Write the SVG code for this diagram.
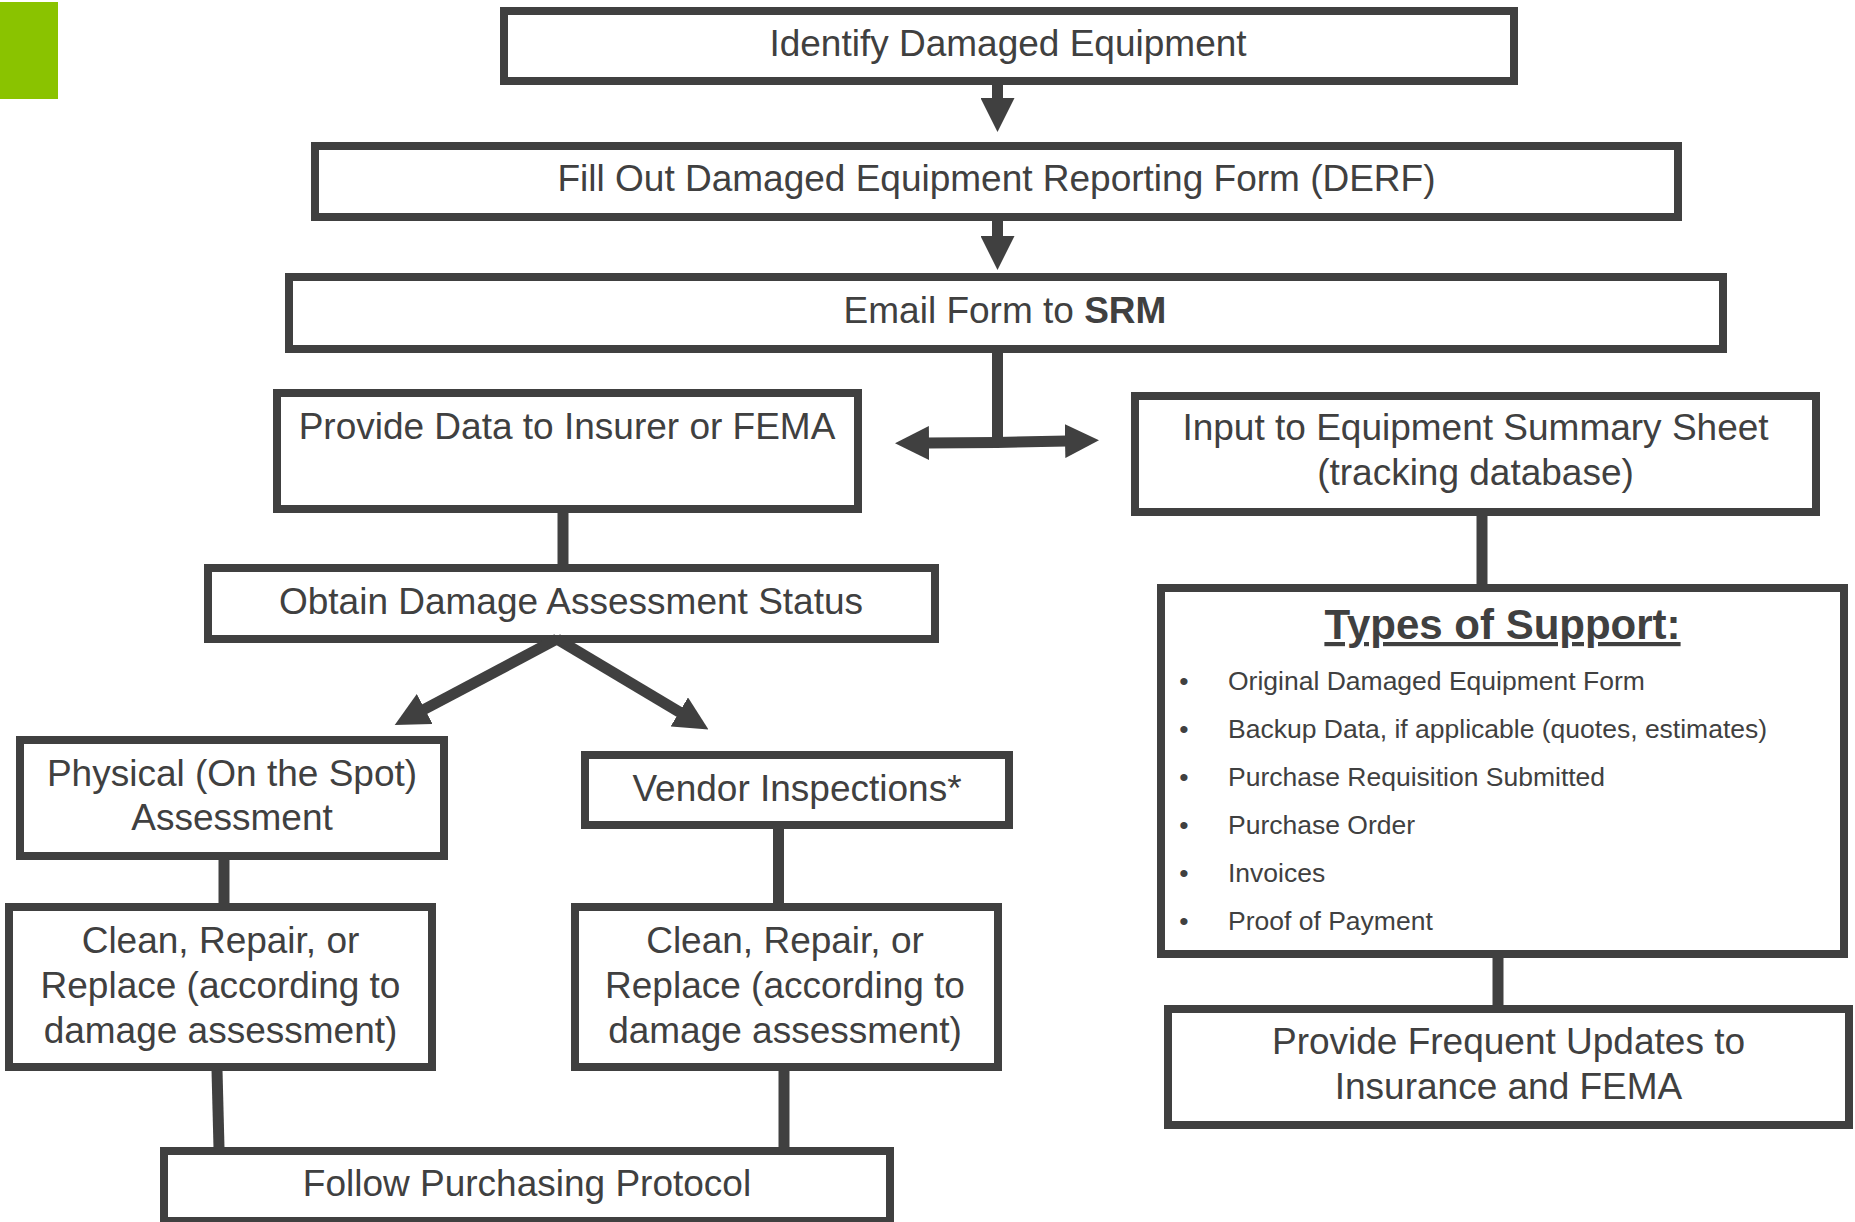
<svg xmlns="http://www.w3.org/2000/svg" width="1855" height="1222" viewBox="0 0 1855 1222">
<style>
.box{fill:#fff;stroke:#404040;stroke-width:8}
.t{font-family:"Liberation Sans",Arial,sans-serif;font-size:37px;fill:#404040;text-anchor:middle}
.b{font-family:"Liberation Sans",Arial,sans-serif;font-size:26.5px;fill:#404040}
.h{font-family:"Liberation Sans",Arial,sans-serif;font-size:42px;font-weight:bold;fill:#404040;text-anchor:middle;text-decoration:underline}
.conn{stroke:#404040;stroke-width:11;fill:none}
</style>
<defs>
<marker id="ah" markerUnits="userSpaceOnUse" markerWidth="34" markerHeight="34" viewBox="0 0 34 34" refX="2" refY="17" orient="auto-start-reverse">
<path d="M0,0 L34,17 L0,34 z" fill="#404040"/>
</marker>
</defs>
<rect x="0" y="2" width="58" height="97" fill="#8AC300"/>

<g id="identify"><rect class="box" x="504" y="11" width="1010" height="70"/><text class="t" x="1008" y="56">Identify Damaged Equipment</text></g>
<g id="fill-derf"><rect class="box" x="315" y="146" width="1363" height="71"/><text class="t" x="996.5" y="191">Fill Out Damaged Equipment Reporting Form (DERF)</text></g>
<g id="email"><rect class="box" x="289" y="277" width="1434" height="72"/><text class="t" x="1005" y="323">Email Form to <tspan font-weight="bold">SRM</tspan></text></g>
<g id="provide-data"><rect class="box" x="277" y="393" width="581" height="116"/><text class="t" x="567" y="439">Provide Data to Insurer or FEMA</text></g>
<g id="input-summary"><rect class="box" x="1135" y="396" width="681" height="116"/><text class="t" x="1475.5" y="440">Input to Equipment Summary Sheet</text><text class="t" x="1475.5" y="485">(tracking database)</text></g>
<g id="obtain-status"><rect class="box" x="208" y="568" width="727" height="71"/><text class="t" x="571" y="614">Obtain Damage Assessment Status</text></g>
<g id="physical"><rect class="box" x="20" y="740" width="424" height="116"/><text class="t" x="232" y="786">Physical (On the Spot)</text><text class="t" x="232" y="829.5">Assessment</text></g>
<g id="vendor"><rect class="box" x="585" y="755" width="424" height="70"/><text class="t" x="797" y="801">Vendor Inspections*</text></g>
<g id="clean-left"><rect class="box" x="9" y="907" width="423" height="160"/><text class="t" x="220.5" y="952.5">Clean, Repair, or</text><text class="t" x="220.5" y="997.5">Replace (according to</text><text class="t" x="220.5" y="1042.5">damage assessment)</text></g>
<g id="clean-right"><rect class="box" x="575" y="907" width="423" height="160"/><text class="t" x="785" y="952.5">Clean, Repair, or</text><text class="t" x="785" y="997.5">Replace (according to</text><text class="t" x="785" y="1042.5">damage assessment)</text></g>
<g id="follow-purchasing"><rect class="box" x="164" y="1151" width="726" height="70"/><text class="t" x="527" y="1196">Follow Purchasing Protocol</text></g>
<g id="types-support"><rect class="box" x="1161" y="588" width="683" height="366"/>
<text class="h" x="1502.5" y="639">Types of Support:</text>
<g class="b">
<text x="1184" y="690" text-anchor="middle">•</text><text x="1228" y="690">Original Damaged Equipment Form</text>
<text x="1184" y="738" text-anchor="middle">•</text><text x="1228" y="738">Backup Data, if applicable (quotes, estimates)</text>
<text x="1184" y="786" text-anchor="middle">•</text><text x="1228" y="786">Purchase Requisition Submitted</text>
<text x="1184" y="834" text-anchor="middle">•</text><text x="1228" y="834">Purchase Order</text>
<text x="1184" y="882" text-anchor="middle">•</text><text x="1228" y="882">Invoices</text>
<text x="1184" y="930" text-anchor="middle">•</text><text x="1228" y="930">Proof of Payment</text>
</g></g>
<g id="updates"><rect class="box" x="1168" y="1009" width="681" height="116"/><text class="t" x="1508.5" y="1054">Provide Frequent Updates to</text><text class="t" x="1508.5" y="1099">Insurance and FEMA</text></g>

<g id="connectors">
<path class="conn" d="M997.5,85 L997.5,100" marker-end="url(#ah)"/>
<path class="conn" d="M997.5,221 L997.5,238" marker-end="url(#ah)"/>
<path class="conn" d="M997.5,352 L997.5,447"/>
<path class="conn" d="M927,443 L997,442.5 L1067,441" marker-start="url(#ah)" marker-end="url(#ah)"/>
<path class="conn" d="M563,512 L563,565"/>
<path class="conn" d="M557,639 L423,710" marker-end="url(#ah)"/>
<path class="conn" d="M557,639 L681,713" marker-end="url(#ah)"/>
<path class="conn" d="M224,859 L224,904"/>
<path class="conn" d="M778.5,828 L778.5,904"/>
<path class="conn" d="M217,1070 L219,1148"/>
<path class="conn" d="M784,1070 L784,1155"/>
<path class="conn" d="M1482,515 L1482,585"/>
<path class="conn" d="M1498,957 L1498,1006"/>
</g>
</svg>
